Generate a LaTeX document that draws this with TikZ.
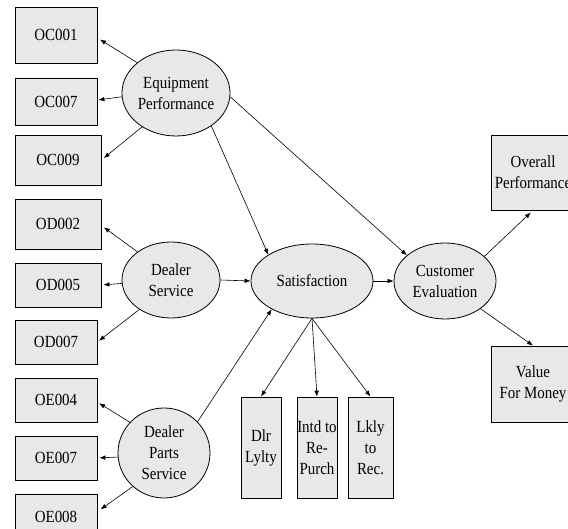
\documentclass[tikz,border=0pt]{standalone}
\usepackage{fontspec}
\setmainfont{Liberation Serif}[FakeStretch=0.88]
\usetikzlibrary{shapes.geometric,arrows.meta}
\definecolor{boxfill}{RGB}{232,232,232}
\begin{document}
\begin{tikzpicture}[x=1pt,y=-1pt,
  every node/.style={font=\fontsize{17}{21}\selectfont},
  box/.style={draw=black, line width=0.8pt, fill=boxfill, rectangle, inner sep=0pt, align=center},
  lat/.style={draw=black, line width=0.8pt, fill=boxfill, ellipse, inner sep=0pt, align=center},
  arr/.style={-{Latex[length=6pt,width=4.5pt]}, line width=0.6pt}]
\useasboundingbox (0,0) rectangle (568,529);
% indicator boxes, left
\node[box, minimum width=82, minimum height=56] (oc1) at (56,35) {OC001};
\node[box, minimum width=82, minimum height=47] (oc7) at (56,101.5) {OC007};
\node[box, minimum width=86, minimum height=50] (oc9) at (58,160) {OC009};
\node[box, minimum width=86, minimum height=50] (od2) at (58,224) {OD002};
\node[box, minimum width=86, minimum height=44] (od5) at (58,285) {OD005};
\node[box, minimum width=82, minimum height=44] (od7) at (56,342) {OD007};
\node[box, minimum width=82, minimum height=44] (oe4) at (56,400) {OE004};
\node[box, minimum width=82, minimum height=44] (oe7) at (56,458) {OE007};
\node[box, minimum width=82, minimum height=50] (oe8) at (56,519) {\raisebox{4pt}{OE008}};
% right boxes
\node[box, minimum width=84, minimum height=75] (op) at (533,172.5) {Overall\\Performance};
\node[box, minimum width=84, minimum height=76] (vm) at (533,384) {Value\\For Money};
% bottom boxes
\node[box, minimum width=40, minimum height=101] (dl) at (261,447.5) {Dlr\\Lylty};
\node[box, minimum width=40, minimum height=101] (ir) at (317,447.5) {Intd to\\Re-\\Purch};
\node[box, minimum width=45, minimum height=101] (lr) at (370.5,447.5) {Lkly\\to\\Rec.};
% latent variables
\node[lat, minimum width=106, minimum height=86] (ep) at (176,93) {Equipment\\Performance};
\node[lat, minimum width=98, minimum height=76] (ds) at (171,280) {Dealer\\Service};
\node[lat, minimum width=92, minimum height=90] (ps) at (164,453) {Dealer\\Parts\\Service};
\node[lat, minimum width=122, minimum height=74] (sat) at (312,281) {Satisfaction};
\node[lat, minimum width=102, minimum height=76] (ce) at (445,281) {Customer\\Evaluation};
% connectors
\draw[arr, shorten >=3pt] (ep.142) -- (oc1.-4);
\draw[arr, shorten >=1pt] (ep.184) -- (oc7.2);
\draw[arr, shorten >=3pt] (ep.225) -- (oc9.east);
\draw[arr] (ep.-43) -- (sat.149);
\draw[arr] (ep.-4) -- (ce.146);
\draw[arr, shorten >=3pt] (ds.140) -- (od2.-2);
\draw[arr, shorten >=2pt] (ds.184) -- (od5.east);
\draw[arr, shorten >=2pt] (ds.223) -- (od7.east);
\draw[arr] (ds.east) -- (sat.west);
\draw[arr, shorten >=2pt] (ps.138) -- (oe4.-3);
\draw[arr, shorten >=2pt] (ps.185) -- (oe7.east);
\draw[arr, shorten >=4pt] (ps.227) -- (oe8.10);
\draw[arr] (ps.43) -- (sat.215);
\draw[arr] (sat.east) -- (ce.west);
\draw[arr] (sat.south) -- (dl.north);
\draw[arr] (sat.south) -- (ir.north);
\draw[arr] (sat.south) -- (lr.north);
\draw[arr, shorten >=3pt] (ce.32) -- (op.south);
\draw[arr] (ce.-38) -- (vm.north);
\end{tikzpicture}
\end{document}
